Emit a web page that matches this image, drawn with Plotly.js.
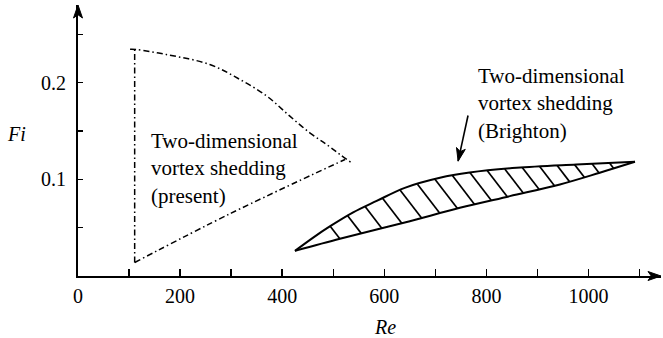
<!DOCTYPE html>
<html>
<head>
<meta charset="utf-8">
<script src="https://cdn.plot.ly/plotly-3.0.1.min.js"></script>
<style>
html,body{margin:0;padding:0;background:#fff;}
#chart{width:663px;height:338px;}
</style>
</head>
<body>
<div id="chart"></div>
<script>
// Region of two-dimensional vortex shedding found in the present study (dash-dot outline)
const presentLeftRe  = [111, 111];
const presentLeftFi  = [0.014, 0.234];
const presentUpperRe = [102, 114, 173, 258, 317, 370, 415, 454, 487, 513, 536];
const presentUpperFi = [0.2345, 0.2343, 0.2291, 0.2188, 0.2033, 0.186, 0.1653, 0.1481, 0.136, 0.1257, 0.117];
const presentLowerRe = [111, 300, 523];
const presentLowerFi = [0.014, 0.065, 0.1205];

// Region reported by Brighton (hatched band)
const brightonUpperRe = [425, 460, 494, 539, 585, 640, 709, 767, 859, 976, 1091];
const brightonUpperFi = [0.026, 0.0395, 0.0515, 0.0658, 0.0776, 0.0912, 0.1016, 0.107, 0.1119, 0.1153, 0.1181];
const brightonLowerRe = [425, 513, 585, 650, 748, 846, 944, 1022, 1091];
const brightonLowerFi = [0.026, 0.0385, 0.0481, 0.0567, 0.0705, 0.0826, 0.0947, 0.1068, 0.1181];

// Axis ticks
const xTickVals = [0, 100, 200, 300, 400, 500, 600, 700, 800, 900, 1000, 1100];
const xTickText = ['0', '', '200', '', '400', '', '600', '', '800', '', '1000', ''];
const yTickVals = [0.05, 0.1, 0.15, 0.2, 0.25];
const yTickText = ['', '0.1', '', '0.2', ''];

// Page geometry
const W = 663, H = 338;
const M = {l: 78, r: 2, t: 5, b: 62};
const xMax = 1142, yMax = 0.2803;
const pxPerRe = (W - M.l - M.r) / xMax;
const pxPerFi = (H - M.t - M.b) / yMax;

const SERIF = 'Liberation Serif, Times New Roman, serif';

function interp(xs, ys, x) {
  if (x <= xs[0]) return ys[0];
  for (let i = 1; i < xs.length; i++) {
    if (x <= xs[i]) {
      const t = (x - xs[i - 1]) / (xs[i] - xs[i - 1]);
      return ys[i - 1] + t * (ys[i] - ys[i - 1]);
    }
  }
  return ys[ys.length - 1];
}

// Hatch strokes: parallel lines dropping from the upper edge of the band to its lower edge
const hatchPixelSlope = 1.3;          // screen drop per screen step to the right
const hatchSpacingRe = 34.2;
const hatchFirstRe = 494;
const hatchSlope = -hatchPixelSlope * pxPerRe / pxPerFi;
const hatchX = [], hatchY = [];
const rightTip = brightonUpperRe[brightonUpperRe.length - 1];
for (let x0 = hatchFirstRe; x0 < rightTip - 40; x0 += hatchSpacingRe) {
  const y0 = interp(brightonUpperRe, brightonUpperFi, x0);
  const f = x => y0 + hatchSlope * (x - x0) - interp(brightonLowerRe, brightonLowerFi, x);
  let a = x0, b = x0;
  while (f(b) > 0 && b < rightTip) b += 1;
  if (f(b) > 0) continue;
  for (let k = 0; k < 40; k++) {
    const m = (a + b) / 2;
    if (f(m) > 0) a = m; else b = m;
  }
  const x1 = (a + b) / 2;
  hatchX.push(x0, x1, null);
  hatchY.push(y0, y0 + hatchSlope * (x1 - x0), null);
}

const dashDot = {color: '#000', width: 1.5, dash: '6px,3px,1.5px,3px'};
const solid = {color: '#000', width: 2, shape: 'spline', smoothing: 1};
const traces = [
  {x: presentLeftRe, y: presentLeftFi, mode: 'lines', line: dashDot, hoverinfo: 'skip'},
  {x: presentUpperRe, y: presentUpperFi, mode: 'lines',
   line: Object.assign({}, dashDot, {shape: 'spline', smoothing: 1}), hoverinfo: 'skip'},
  {x: presentLowerRe, y: presentLowerFi, mode: 'lines',
   line: Object.assign({}, dashDot, {shape: 'spline', smoothing: 1}), hoverinfo: 'skip'},
  {x: hatchX, y: hatchY, mode: 'lines', line: {color: '#000', width: 1.7}, hoverinfo: 'skip'},
  {x: brightonUpperRe, y: brightonUpperFi, mode: 'lines', line: solid, hoverinfo: 'skip'},
  {x: brightonLowerRe, y: brightonLowerFi, mode: 'lines', line: solid, hoverinfo: 'skip'}
];

// Filled arrowhead as a pixel-sized path anchored at its tip
function arrowHead(xref, yref, x, y, ux, uy, len, half) {
  const n = Math.hypot(ux, uy); ux /= n; uy /= n;
  const px = -uy, py = ux;
  const bx = -len * ux, by = -len * uy;
  const nx = -0.75 * len * ux, ny = -0.75 * len * uy;
  const p = [[0, 0], [bx + half * px, by + half * py], [nx, ny], [bx - half * px, by - half * py]];
  const path = 'M' + p.map(q => q[0].toFixed(2) + ',' + q[1].toFixed(2)).join(' L') + ' Z';
  return {type: 'path', xref, yref, xsizemode: 'pixel', ysizemode: 'pixel',
          xanchor: x, yanchor: y, path, fillcolor: '#000', line: {color: '#000', width: 1}};
}

// Pointer to the Brighton band
const ptrTail = {x: 764, y: 0.166};
const ptrTip = {x: 744.6, y: 0.1188};
const ptrDx = (ptrTip.x - ptrTail.x) * pxPerRe;
const ptrDy = (ptrTip.y - ptrTail.y) * pxPerFi;

const shapes = [
  arrowHead('paper', 'paper', 0, 1, 0, 1, 13, 4.5),
  arrowHead('paper', 'paper', 1, 0, 1, 0, 13, 4.5),
  {type: 'line', xref: 'x', yref: 'y', x0: ptrTail.x, y0: ptrTail.y, x1: ptrTip.x, y1: ptrTip.y,
   line: {color: '#000', width: 1.6}},
  arrowHead('x', 'y', ptrTip.x, ptrTip.y, ptrDx, ptrDy, 13, 4.5)
];

const textFont = {family: SERIF, size: 21, color: '#000'};
const annotations = [
  {xref: 'x', yref: 'y', x: 139, y: 0.1112, xanchor: 'left', yanchor: 'middle', align: 'left',
   showarrow: false, font: textFont,
   text: 'Two-dimensional<br>vortex shedding<br>(present)'},
  {xref: 'x', yref: 'y', x: 779, y: 0.1784, xanchor: 'left', yanchor: 'middle', align: 'left',
   showarrow: false, font: textFont,
   text: 'Two-dimensional<br>vortex shedding<br>(Brighton)'},
  {xref: 'paper', yref: 'paper', x: -0.106, y: 0.524, xanchor: 'center', yanchor: 'middle',
   showarrow: false, font: {family: SERIF, size: 20, color: '#000'}, text: '<i>Fi</i>'},
  {xref: 'paper', yref: 'paper', x: 0.5266, y: -0.188, xanchor: 'center', yanchor: 'middle',
   showarrow: false, font: {family: SERIF, size: 20, color: '#000'}, text: '<i>Re</i>'}
];

const axisCommon = {
  showgrid: false, zeroline: false, showline: true, linecolor: '#000', linewidth: 2,
  ticks: 'inside', tickcolor: '#000', tickwidth: 1.5, tickmode: 'array',
  tickfont: {family: SERIF, size: 20, color: '#000'}, fixedrange: true
};

const layout = {
  width: W, height: H, margin: M, showlegend: false,
  paper_bgcolor: '#fff', plot_bgcolor: '#fff',
  xaxis: Object.assign({}, axisCommon, {range: [0, xMax], tickvals: xTickVals, ticktext: xTickText,
                                        ticklen: 7, ticklabelstandoff: 1}),
  yaxis: Object.assign({}, axisCommon, {range: [0, yMax], tickvals: yTickVals, ticktext: yTickText,
                                        ticklen: 5, ticklabelstandoff: 6}),
  shapes, annotations
};

Plotly.newPlot('chart', traces, layout, {staticPlot: true, displayModeBar: false});
</script>
</body>
</html>
